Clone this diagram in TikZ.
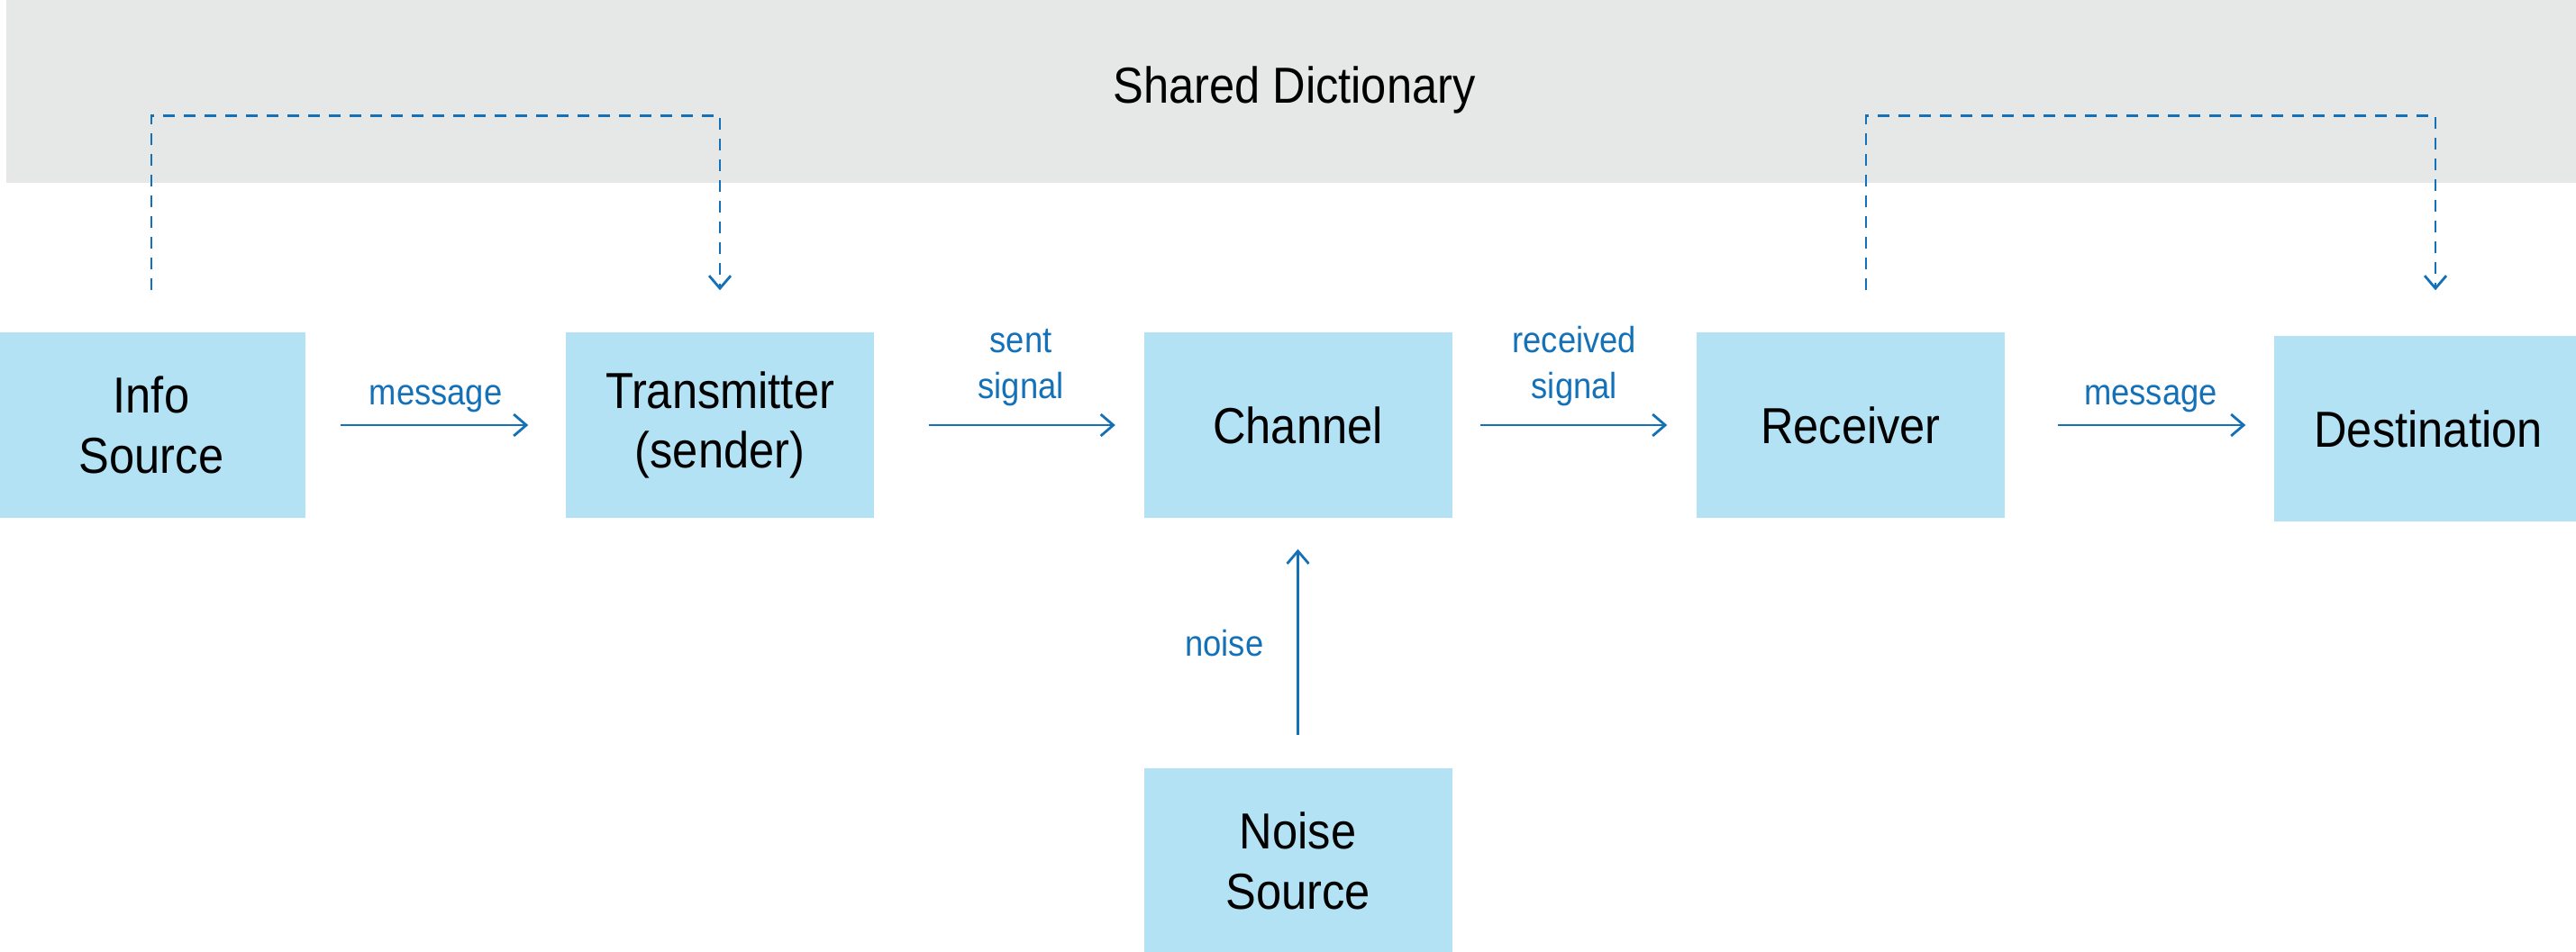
\documentclass[tikz,border=0pt]{standalone}
\usepackage{fontspec}
\setmainfont{Liberation Sans}[FakeStretch=0.9]
\usetikzlibrary{arrows.meta}
\definecolor{boxblue}{RGB}{179,226,245}
\definecolor{dictgray}{RGB}{230,232,232}
\definecolor{linkblue}{RGB}{20,113,184}

\begin{document}
\begin{tikzpicture}[
    block/.style={rectangle, fill=boxblue, minimum width=3.42cm, minimum height=2.06cm, align=center, font=\fontsize{16}{19}\selectfont},
    flow/.style={-{Straight Barb[length=0.14cm, width=0.24cm]}, draw=linkblue, line width=0.8pt},
    share/.style={flow, dash pattern=on 0.13cm off 0.1cm},
    tag/.style={text=linkblue, align=center, font=\fontsize{11.5}{14.5}\selectfont}
]
\useasboundingbox (0,0) rectangle (28.59,10.56);

% Shared dictionary band
\node[fill=dictgray, minimum width=28.59cm, minimum height=2.06cm, font=\fontsize{16}{19}\selectfont] (dict) at (14.365,9.56) {Shared Dictionary};

% Main chain
\node[block] (info) at (1.68,5.84) {Info\\Source};
\node[block] (trans) at (7.99,5.84) {Transmitter\\(sender)};
\node[block] (chan) at (14.405,5.84) {Channel};
\node[block] (rec) at (20.54,5.84) {Receiver};
\node[block] (dest) at (26.95,5.80) {Destination};

% Noise
\node[block] (noise) at (14.405,1.00) {Noise\\Source};

% Arrows
\draw[flow, shorten <=0.38cm, shorten >=0.41cm] (info) -- (trans) node[tag, midway, above=0.01cm] (msg1) {message};
\draw[flow, shorten <=0.60cm, shorten >=0.31cm] (trans) -- (chan) node[tag, pos=0.545, above=0.08cm] (sent) {sent\\signal};
\draw[flow, shorten <=0.31cm, shorten >=0.32cm] (chan) -- (rec) node[tag, midway, above=0.08cm] (recd) {received\\signal};
\draw[flow, shorten <=0.58cm, shorten >=0.31cm] (rec.east) -- (rec.east -| dest.west) node[tag, pos=0.542, above=0.01cm] (msg2) {message};
\draw[flow, shorten <=0.36cm, shorten >=0.34cm] (noise) -- (chan) node[tag, midway, left=0.25cm] (nlab) {noise};

% Dictionary links
\draw[share, shorten <=0.46cm, shorten >=0.46cm] (info.north) -- ++(0,2.4) -| (trans.north);
\draw[share, shorten <=0.46cm, shorten >=0.50cm] ([xshift=0.17cm]rec.north) -- ++(0,2.4) -| ([xshift=0.08cm]dest.north);
\end{tikzpicture}
\end{document}
